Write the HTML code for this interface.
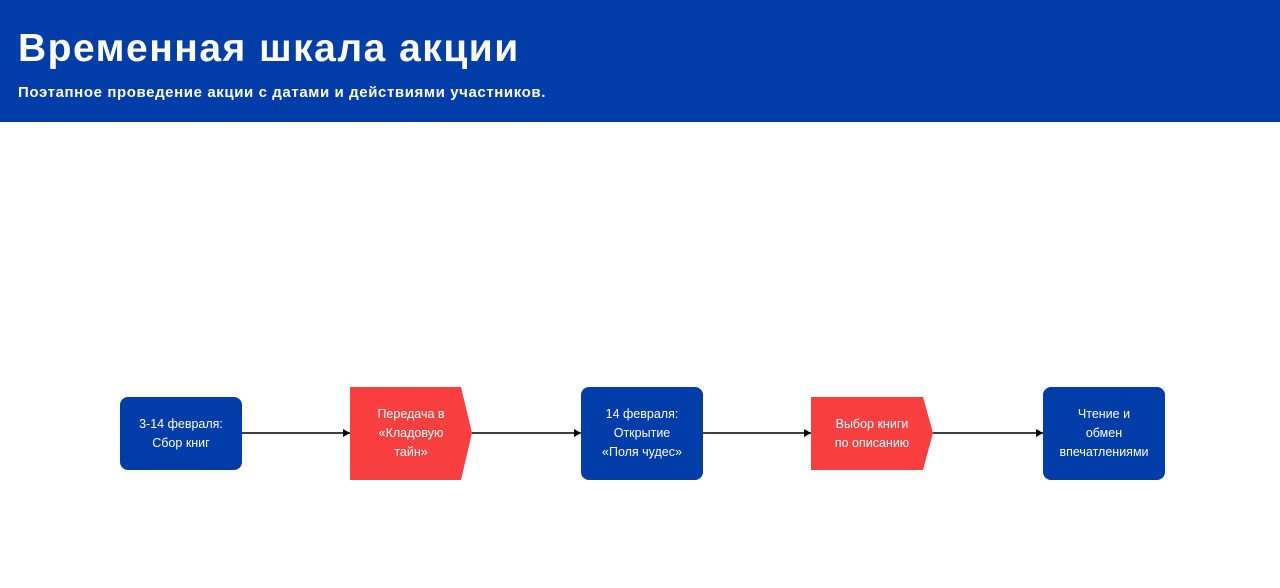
<!DOCTYPE html>
<html><head><meta charset="utf-8"><style>
body{margin:0;width:1280px;height:588px;background:#fff;font-family:"Liberation Sans",sans-serif;overflow:hidden;position:relative}
.hd{position:absolute;left:0;top:0;width:1280px;height:122px;background:#003da8;color:#fff}
.hd h1{position:absolute;left:18px;top:27px;margin:0;font-size:39px;font-weight:bold;letter-spacing:1.5px}
.hd p{position:absolute;left:18px;top:84px;margin:0;font-size:15px;font-weight:bold;letter-spacing:0.6px}
.n{position:absolute;display:flex;align-items:center;justify-content:center;text-align:center;color:#fff;font-size:12.5px;line-height:19px;box-sizing:border-box}
.b{background:#003da8;border-radius:8px}
</style></head><body>
<div class="hd"><h1>Временная шкала акции</h1><p>Поэтапное проведение акции с датами и действиями участников.</p></div>
<svg width="1280" height="588" style="position:absolute;left:0;top:0">
<defs><marker id="a" markerUnits="userSpaceOnUse" markerWidth="7" markerHeight="8" refX="7" refY="4" orient="auto"><path d="M0,0L7,4L0,8z" fill="#000"/></marker></defs>
<polygon points="350,387 461,387 472,433 461,480 350,480" fill="#f93f40"/>
<polygon points="811,397 923,397 933,433 923,470 811,470" fill="#f93f40"/>
<g stroke="#000" stroke-width="1.5" marker-end="url(#a)">
<line x1="242" y1="433" x2="350" y2="433"/>
<line x1="472" y1="433" x2="581" y2="433"/>
<line x1="703" y1="433" x2="811" y2="433"/>
<line x1="933" y1="433" x2="1043" y2="433"/>
</g></svg>
<div class="n b" style="left:120px;top:397px;width:122px;height:73px">3-14 февраля:<br>Сбор книг</div>
<div class="n" style="left:350px;top:387px;width:122px;height:93px">Передача в<br>«Кладовую<br>тайн»</div>
<div class="n b" style="left:581px;top:387px;width:122px;height:93px">14 февраля:<br>Открытие<br>«Поля чудес»</div>
<div class="n" style="left:811px;top:397px;width:122px;height:73px">Выбор книги<br>по описанию</div>
<div class="n b" style="left:1043px;top:387px;width:122px;height:93px">Чтение и<br>обмен<br>впечатлениями</div>
</body></html>
